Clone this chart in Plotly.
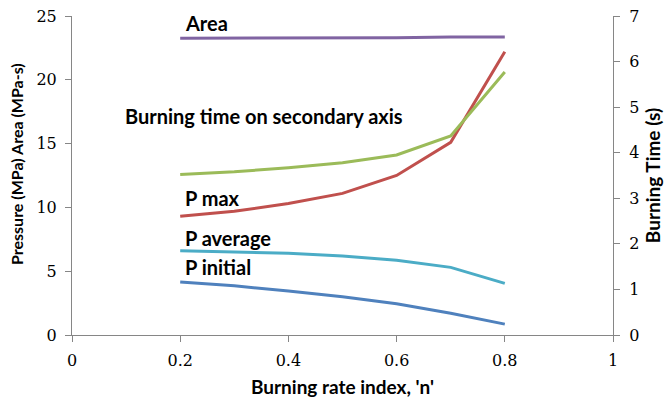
import plotly.graph_objects as go

n_index = [0.2, 0.3, 0.4, 0.5, 0.6, 0.7, 0.8]
area = [23.25, 23.25, 23.25, 23.27, 23.3, 23.35, 23.35]
p_max = [9.3, 9.7, 10.3, 11.1, 12.5, 15.1, 22.2]
p_average = [6.6, 6.5, 6.4, 6.2, 5.85, 5.3, 4.05]
p_initial = [4.15, 3.85, 3.45, 3.0, 2.45, 1.7, 0.85]
burning_time = [3.52, 3.58, 3.67, 3.78, 3.95, 4.37, 5.77]

labels = ["Area", "Burning time on secondary axis", "P max", "P average", "P initial"]
label_x = [0.207, 0.097, 0.207, 0.207, 0.207]
label_y = [24.45, 17.15, 10.7, 7.62, 5.35]

x_ticks = [0, 0.2, 0.4, 0.6, 0.8, 1]
x_ticktext = ["0", "0.2", "0.4", "0.6", "0.8", "1"]

colors = {"area": "#8064A2", "pmax": "#C0504D", "pavg": "#4BACC6",
          "pinit": "#4F81BD", "bt": "#9BBB59"}

fig = go.Figure()
fig.add_trace(go.Scatter(x=n_index, y=area, mode="lines", line=dict(color=colors["area"], width=3)))
fig.add_trace(go.Scatter(x=n_index, y=p_average, mode="lines", line=dict(color=colors["pavg"], width=3)))
fig.add_trace(go.Scatter(x=n_index, y=p_initial, mode="lines", line=dict(color=colors["pinit"], width=3)))
fig.add_trace(go.Scatter(x=n_index, y=burning_time, mode="lines", yaxis="y2", line=dict(color=colors["bt"], width=3)))
fig.add_trace(go.Scatter(x=n_index, y=p_max, mode="lines", line=dict(color=colors["pmax"], width=3)))

lab_font = dict(family="Lato", size=20, color="#000000")
for t, x, y in zip(labels, label_x, label_y):
    fig.add_annotation(x=x, y=y, xref="x", yref="y", text="<b>" + t + "</b>", showarrow=False,
                       xanchor="left", yanchor="middle", font=lab_font, borderpad=0)

# left axis title placed as annotation for exact vertical position
fig.add_annotation(x=0, y=0.536, xref="paper", yref="paper", xshift=-56, textangle=-90,
                   text="<b>Pressure (MPa) Area (MPa-s)</b>", showarrow=False,
                   xanchor="center", yanchor="middle",
                   font=dict(family="Lato", size=16, color="#000000"))

tick_font = dict(family="DejaVu Serif", size=16, color="#000000")
axis_common = dict(showline=True, linecolor="#868686", linewidth=1, ticks="outside",
                   tickcolor="#868686", ticklen=6, showgrid=False, zeroline=False,
                   tickfont=tick_font, automargin=False)

fig.update_layout(
    width=672, height=402, margin=dict(l=72, r=59, t=16, b=67),
    plot_bgcolor="white", paper_bgcolor="white", showlegend=False,
    xaxis=dict(range=[0, 1], tickvals=x_ticks, ticktext=x_ticktext, ticklabelstandoff=5,
               title=dict(text="<b>Burning rate index, 'n'</b>",
                          font=dict(family="Lato", size=19, color="#000000"), standoff=11),
               **axis_common),
    yaxis=dict(range=[0, 25], dtick=5, ticklabelstandoff=5, **axis_common),
    yaxis2=dict(range=[0, 7], dtick=1, overlaying="y", side="right", ticklabelstandoff=6,
                title=dict(text="<b>Burning Time (s)</b>",
                           font=dict(family="Lato", size=19, color="#000000"), standoff=8),
                **axis_common),
)

fig.write_html("out.html")
